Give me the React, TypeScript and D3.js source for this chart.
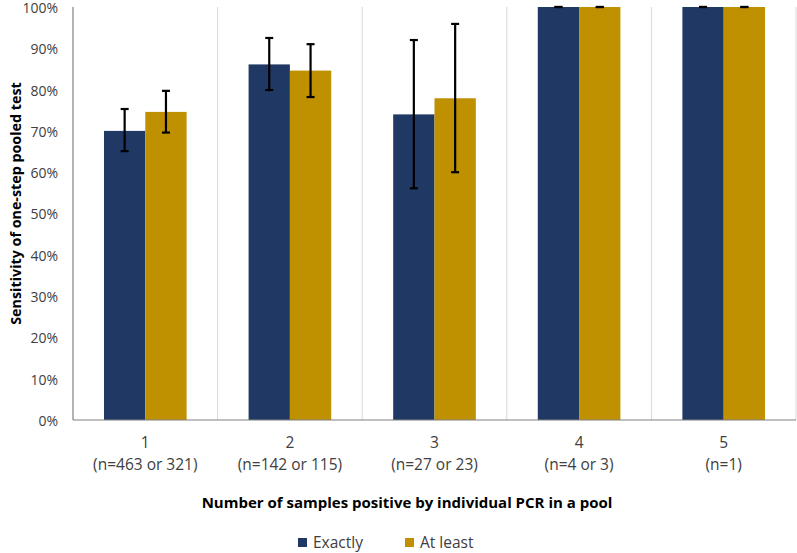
import React from "react";
import * as d3 from "d3";

const categories = ["1", "2", "3", "4", "5"];
const subLabels = ["(n=463 or 321)", "(n=142 or 115)", "(n=27 or 23)", "(n=4 or 3)", "(n=1)"];
const seriesNames = ["Exactly", "At least"];
const seriesColors = ["#203864", "#BF9000"];
const exactlyValues = [70.0, 86.1, 74.0, 100, 100];
const exactlyLow = [65.1, 79.9, 56.1, 100, 100];
const exactlyHigh = [75.3, 92.5, 92.0, 100, 100];
const atLeastValues = [74.6, 84.6, 77.9, 100, 100];
const atLeastLow = [69.6, 78.2, 60.0, 100, 100];
const atLeastHigh = [79.7, 91.0, 95.9, 100, 100];
const yTicks = [0, 10, 20, 30, 40, 50, 60, 70, 80, 90, 100];

const W = 797;
const H = 553;
const M = { left: 73, right: 796, top: 7, bottom: 420 };
const FONT = "'Open Sans', sans-serif";

export default function App() {
  const x = d3.scaleBand<string>().domain(categories).range([M.left, M.right]).paddingInner(0).paddingOuter(0);
  const y = d3.scaleLinear().domain([0, 100]).range([M.bottom, M.top]);
  const bw = x.bandwidth();
  const barW = bw / 3.5;
  const sub = d3.scaleBand<string>().domain(seriesNames).range([bw / 2 - barW, bw / 2 + barW]);

  const series = [
    { name: seriesNames[0], color: seriesColors[0], v: exactlyValues, lo: exactlyLow, hi: exactlyHigh },
    { name: seriesNames[1], color: seriesColors[1], v: atLeastValues, lo: atLeastLow, hi: atLeastHigh },
  ];

  return (
    <svg width={W} height={H} style={{ position: "absolute", left: 0, top: 0, background: "#fff" }} fontFamily={FONT}>
      {categories.slice(1).map((c) => (
        <line key={c} x1={x(c)!} x2={x(c)!} y1={M.top} y2={M.bottom} stroke="#d9d9d9" strokeWidth={1} />
      ))}
      <line x1={M.right} x2={M.right} y1={M.top} y2={M.bottom} stroke="#d9d9d9" strokeWidth={1} />
      {series.map((s) =>
        categories.map((c, i) => (
          <rect
            key={s.name + c}
            x={x(c)! + sub(s.name)!}
            y={y(s.v[i])}
            width={sub.bandwidth()}
            height={y(0) - y(s.v[i])}
            fill={s.color}
          />
        ))
      )}
      {series.map((s) =>
        categories.map((c, i) => {
          const cx = x(c)! + sub(s.name)! + sub.bandwidth() / 2;
          return (
            <g key={"e" + s.name + c} stroke="#000" strokeWidth={2.2}>
              <line x1={cx} x2={cx} y1={y(s.hi[i])} y2={y(s.lo[i])} />
              <line x1={cx - 4} x2={cx + 4} y1={y(s.hi[i])} y2={y(s.hi[i])} />
              <line x1={cx - 4} x2={cx + 4} y1={y(s.lo[i])} y2={y(s.lo[i])} />
            </g>
          );
        })
      )}
      <line x1={M.left} x2={M.left} y1={M.top} y2={M.bottom} stroke="#808080" strokeWidth={1.2} />
      <line x1={M.left} x2={M.right} y1={M.bottom} y2={M.bottom} stroke="#808080" strokeWidth={1.2} />
      {yTicks.map((t) => (
        <text key={t} x={58} y={y(t) + 1} dy="0.35em" textAnchor="end" fontSize={14} fill="#404040">
          {t}%
        </text>
      ))}
      {categories.map((c, i) => (
        <g key={"l" + c}>
          <text x={x(c)! + bw / 2} y={443} dy="0.35em" textAnchor="middle" fontSize={15.5} fill="#404040">
            {c}
          </text>
          <text x={x(c)! + bw / 2} y={465} dy="0.35em" textAnchor="middle" fontSize={15.5} fill="#404040">
            {subLabels[i]}
          </text>
        </g>
      ))}
      <text
        transform={`translate(16,${(M.top + M.bottom) / 2 - 10}) rotate(-90)`}
        textAnchor="middle"
        dy="0.35em"
        fontSize={14.3}
        fontWeight="bold"
        fill="#000"
      >
        Sensitivity of one-step pooled test
      </text>
      <text x={407} y={503} dy="0.35em" textAnchor="middle" fontSize={15} fontWeight="bold" fill="#000">
        Number of samples positive by individual PCR in a pool
      </text>
      {series.map((s, i) => {
        const lx = i === 0 ? 298 : 405;
        return (
          <g key={"lg" + s.name}>
            <rect x={lx} y={538} width={9} height={9} fill={s.color} />
            <text x={lx + 15} y={543} dy="0.35em" fontSize={15.5} fill="#404040">
              {s.name}
            </text>
          </g>
        );
      })}
    </svg>
  );
}
